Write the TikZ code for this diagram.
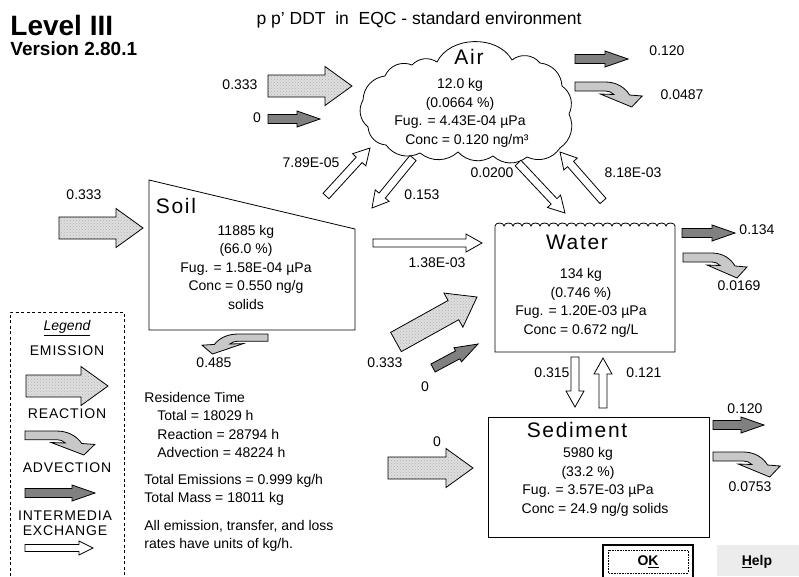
\documentclass[tikz,border=0pt]{standalone}
\usepackage{fontspec}
\setmainfont{Liberation Sans}
\newfontfamily\ttlfont[LetterSpace=8]{Liberation Sans}
\newfontfamily\legfont[LetterSpace=6]{Liberation Sans}
\usetikzlibrary{calc, patterns}
\definecolor{advgray}{HTML}{808080}
\definecolor{reactgray}{HTML}{C8C8C8}
\definecolor{emisgray}{HTML}{DEDEDE}
\definecolor{btngray}{HTML}{ECECEC}

% block arrow from one coordinate to another:
% style, from, to, half shaft width, half head width, head length
\newcommand\flowarrow[6]{%
  \path (#2) coordinate (fa-a) (#3) coordinate (fa-b);
  \pgfpointdiff{\pgfpointanchor{fa-a}{center}}{\pgfpointanchor{fa-b}{center}}%
  \pgfgetlastxy{\fadx}{\fady}%
  \pgfmathsetmacro\faang{atan2(\fady,\fadx)}%
  \pgfmathsetmacro\falen{veclen(\fadx,\fady)}%
  \begin{scope}[shift={(fa-a)}, rotate=\faang]
    \draw[#1] (0,#4) -- ({\falen-#6},#4) -- ({\falen-#6},#5) -- (\falen,0)
      -- ({\falen-#6},-#5) -- ({\falen-#6},-#4) -- (0,-#4) -- cycle;
  \end{scope}}
\newcommand\emisarrow[2]{\flowarrow{emis}{#1}{#2}{11}{19.5}{27}}
\newcommand\advarrow[2]{\flowarrow{advec}{#1}{#2}{4.5}{8}{23}}
\newcommand\xchgarrow[2]{\flowarrow{xchg}{#1}{#2}{4}{9}{16}}

\tikzset{
  react/.pic={
    \draw[reactbody] (0,0) -- (29,0) .. controls (40,0) and (48,6) .. (52,13)
      -- (64,14) -- (54,25) -- (24,12) -- (37,12.5)
      .. controls (35,10) and (32,9) .. (29,9) -- (0,9) -- cycle;
  }
}

\begin{document}
\begin{tikzpicture}[x=1pt, y=-1pt, line width=0.8pt,
    every node/.style={inner sep=0pt},
    num/.style={font=\fontsize{14}{16}\selectfont},
    data/.style={align=center, font=\fontsize{14}{18.5}\selectfont},
    ttl/.style={font=\ttlfont\fontsize{21}{24}\selectfont},
    legtxt/.style={font=\legfont\fontsize{14}{15}\selectfont},
    emis/.style={draw, preaction={fill=emisgray}, pattern=crosshatch dots, pattern color=black!30},
    advec/.style={draw, fill=advgray},
    xchg/.style={draw, fill=white},
    reactbody/.style={draw, fill=reactgray}
]
    \useasboundingbox (0,0) rectangle (799,576);

    % headings
    \node[font=\bfseries\fontsize{28}{30}\selectfont, anchor=west] (level) at (10,25) {Level III};
    \node[font=\bfseries\fontsize{19}{21}\selectfont, anchor=west] (version) at (10,49) {Version 2.80.1};
    \node[font=\fontsize{17.5}{20}\selectfont] (heading) at (419,20) {p p' DDT\ \ in\ \ EQC - standard environment};

    % air (cloud)
    \draw (385,76) to[bend left=45] (412,65) to[bend left=40] (437,62)
        to[bend left=62] (512,60) to[bend left=45] (540,63) to[bend left=40] (562,86)
        to[bend left=40] (569,114) to[bend left=40] (560,148) to[bend left=40] (527,157)
        to[bend left=40] (493,156) to[bend left=40] (458,152) to[bend left=40] (420,153)
        to[bend left=40] (386,145) to[bend left=40] (368,127) to[bend left=40] (363,100)
        to[bend left=40] (385,76);
    \node[ttl] (airttl) at (469,57) {Air};
    \node[data] (airdata) at (460,113) {12.0 kg\\(0.0664 \%)\\Fug. = 4.43E-04 µPa\\\hspace{14pt}Conc = 0.120 ng/m³};

    % soil
    \draw (149,180) -- (355,229) -- (355,330) -- (149,330) -- cycle;
    \node[ttl] (soilttl) at (176,206) {Soil};
    \node[data] (soildata) at (246,267) {11885 kg\\(66.0 \%)\\Fug. = 1.58E-04 µPa\\Conc = 0.550 ng/g\\solids};

    % water
    \draw (495,352) -- (495,226) foreach \i in {1,...,20} {arc[start angle=180, end angle=360, x radius=4.5, y radius=3]}
        -- (675,352) -- cycle;
    \node[ttl] (watttl) at (577,242) {Water};
    \node[data] (watdata) at (581,303) {134 kg\\(0.746 \%)\\Fug. = 1.20E-03 µPa\\Conc = 0.672 ng/L};

    % sediment
    \draw (488,417) rectangle (709,537);
    \node[ttl] (sedttl) at (577,430) {Sediment};
    \node[data] (seddata) at (588,482) {5980 kg\\(33.2 \%)\\Fug. = 3.57E-03 µPa\\\hspace{14pt}Conc = 24.9 ng/g solids};

    % arrow ends
    \coordinate (airEmA) at (268,86);      \coordinate (airEmB) at (352,86);
    \coordinate (airAdvA) at (268,119);    \coordinate (airAdvB) at (320,119);
    \coordinate (airOutA) at (575,59);     \coordinate (airOutB) at (628,59);
    \coordinate (soilEmA) at (59,228);     \coordinate (soilEmB) at (143,228);
    \coordinate (watEmA) at (396,342);     \coordinate (watEmB) at (477,297);
    \coordinate (watAdvA) at (433,368);    \coordinate (watAdvB) at (478,344);
    \coordinate (watOutA) at (682,233);    \coordinate (watOutB) at (735,233);
    \coordinate (sedEmA) at (388,468);     \coordinate (sedEmB) at (473,468);
    \coordinate (sedOutA) at (713,425);    \coordinate (sedOutB) at (764,425);
    \coordinate (s2aA) at (326,196);       \coordinate (s2aB) at (370,148);
    \coordinate (a2sA) at (413,158);       \coordinate (a2sB) at (372,208);
    \coordinate (a2wA) at (518,163);       \coordinate (a2wB) at (565,213);
    \coordinate (w2aA) at (603,201);       \coordinate (w2aB) at (560,152);
    \coordinate (s2wA) at (373,243);       \coordinate (s2wB) at (482,243);
    \coordinate (w2sA) at (575,357);       \coordinate (w2sB) at (575,407);
    \coordinate (s2wsA) at (603,408);      \coordinate (s2wsB) at (603,358);

    % emission
    \emisarrow{airEmA}{airEmB}
    \emisarrow{soilEmA}{soilEmB}
    \emisarrow{watEmA}{watEmB}
    \emisarrow{sedEmA}{sedEmB}
    % advection
    \advarrow{airAdvA}{airAdvB}
    \advarrow{airOutA}{airOutB}
    \advarrow{watAdvA}{watAdvB}
    \advarrow{watOutA}{watOutB}
    \advarrow{sedOutA}{sedOutB}
    % intermedia exchange
    \xchgarrow{s2aA}{s2aB}
    \xchgarrow{a2sA}{a2sB}
    \xchgarrow{a2wA}{a2wB}
    \xchgarrow{w2aA}{w2aB}
    \xchgarrow{s2wA}{s2wB}
    \xchgarrow{w2sA}{w2sB}
    \xchgarrow{s2wsA}{s2wsB}
    % reaction
    \pic[xscale=1.05] (airreact) at (575,82) {react};
    \pic (watreact) at (683,253) {react};
    \pic[xscale=1.05] (sedreact) at (713,452) {react};
    \pic[xscale=-1.03, yscale=0.8] (soilreact) at (268,334) {react};

    % rates
    \node[num] (rAirEm) at (240,85) {0.333};
    \node[num] (rAirAdv) at (257,118) {0};
    \node[num] (rAirOut) at (667,51) {0.120};
    \node[num] (rAirReact) at (682,95) {0.0487};
    \node[num] (rS2a) at (311,163) {7.89E-05};
    \node[num] (rA2s) at (422,195) {0.153};
    \node[num] (rA2w) at (492,173) {0.0200};
    \node[num] (rW2a) at (633,173) {8.18E-03};
    \node[num] (rSoilEm) at (84,195) {0.333};
    \node[num] (rSoilReact) at (214,363) {0.485};
    \node[num] (rS2w) at (437,263) {1.38E-03};
    \node[num] (rWatOut) at (757,230) {0.134};
    \node[num] (rWatReact) at (739,286) {0.0169};
    \node[num] (rWatEm) at (385,363) {0.333};
    \node[num] (rWatAdv) at (425,387) {0};
    \node[num] (rW2s) at (552,373) {0.315};
    \node[num] (rS2ws) at (644,373) {0.121};
    \node[num] (rSedEm) at (437,442) {0};
    \node[num] (rSedOut) at (745,409) {0.120};
    \node[num] (rSedReact) at (750,487) {0.0753};

    % summary
    \node[data, align=left, anchor=west] (restime) at (144,425) {Residence Time\\\hspace{13pt}Total = 18029 h\\\hspace{13pt}Reaction = 28794 h\\\hspace{13pt}Advection = 48224 h};
    \node[data, align=left, anchor=west] (totals) at (144,490) {Total Emissions = 0.999 kg/h\\Total Mass = 18011 kg};
    \node[data, align=left, anchor=west] (units) at (144,536) {All emission, transfer, and loss\\rates have units of kg/h.};

    % legend
    \draw[dash pattern=on 3pt off 2.5pt] (10,576) -- (10,312) -- (124,312) -- (124,576);
    \node[font=\itshape\fontsize{14}{15}\selectfont] (legttl) at (67,328) {\underline{Legend}};
    \node[legtxt] (legemis) at (67,351) {EMISSION};
    \coordinate (legEmA) at (26,386);      \coordinate (legEmB) at (108,386);
    \emisarrow{legEmA}{legEmB}
    \node[legtxt] (legreact) at (67,414) {REACTION};
    \pic[xscale=1.09, yscale=0.96] (legreactarr) at (25,431) {react};
    \node[legtxt] (legadv) at (67,468) {ADVECTION};
    \coordinate (legAdvA) at (25,493);     \coordinate (legAdvB) at (95,493);
    \advarrow{legAdvA}{legAdvB}
    \node[legtxt, align=center] (legxchg) at (65,523) {INTERMEDIA\\EXCHANGE};
    \coordinate (legXA) at (25,548);       \coordinate (legXB) at (93,548);
    \flowarrow{xchg}{legXA}{legXB}{3.5}{7}{14}

    % buttons
    \draw[line width=1.6pt] (603,545) rectangle (693,578);
    \draw[densely dotted, line width=0.6pt] (608,550) rectangle (688,573);
    \node[font=\bfseries\fontsize{14}{16}\selectfont] (okbtn) at (648,562) {O\underline{K}};
    \fill[btngray] (717,545) rectangle (799,576);
    \node[font=\bfseries\fontsize{14}{16}\selectfont] (helpbtn) at (757,562) {\underline{H}elp};
\end{tikzpicture}
\end{document}
